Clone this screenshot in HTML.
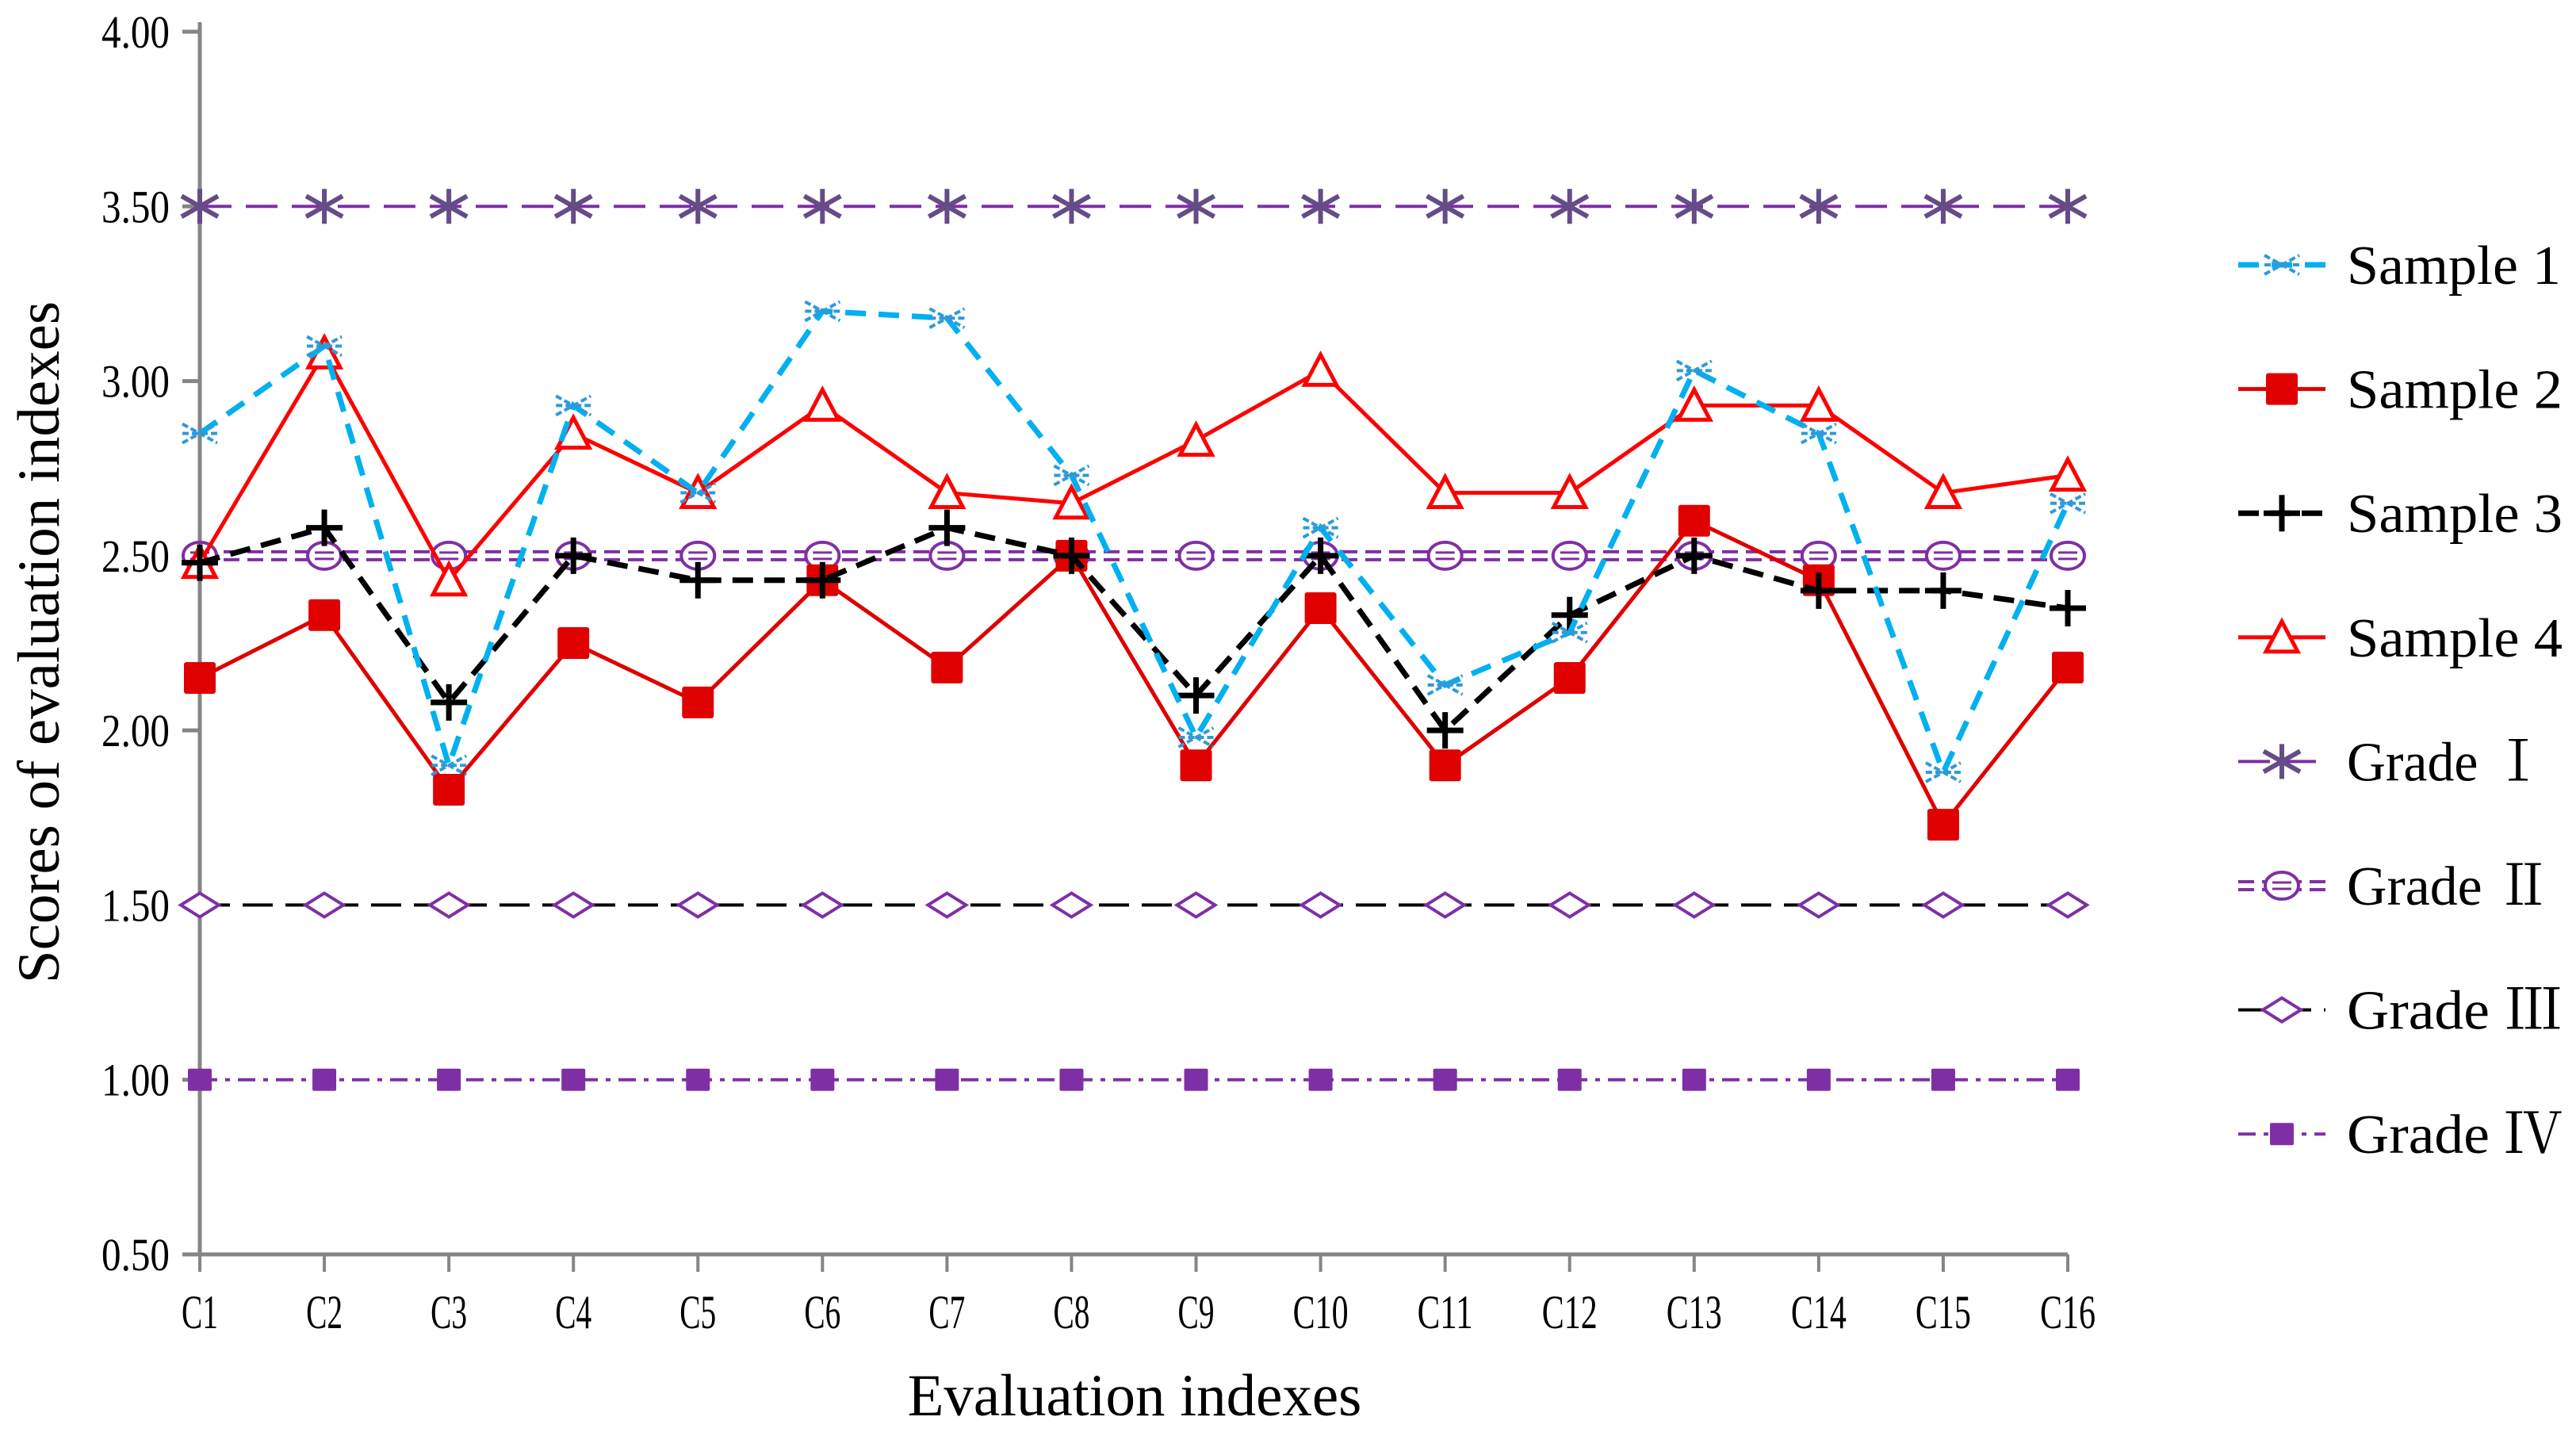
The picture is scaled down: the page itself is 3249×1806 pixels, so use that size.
<!DOCTYPE html>
<html><head><meta charset="utf-8"><style>
html,body{margin:0;padding:0;background:#fff;}
svg{display:block;font-family:"Liberation Serif","Noto Serif CJK SC",serif;}
</style></head><body>
<svg id="chart" width="3249" height="1806" viewBox="0 0 3249 1806" xmlns="http://www.w3.org/2000/svg">
<g id="axes"></g>
<g id="series"></g>
<g id="legend"></g>
<text x="0" y="0" transform="translate(74,810) rotate(-90)" text-anchor="middle" font-size="75">Scores of evaluation indexes</text>
<text x="1431" y="1785" text-anchor="middle" font-size="75">Evaluation indexes</text>
</svg>
<script>
const categories = ["C1","C2","C3","C4","C5","C6","C7","C8","C9","C10","C11","C12","C13","C14","C15","C16"];
const yTicks = ["0.50","1.00","1.50","2.00","2.50","3.00","3.50","4.00"];
const sample1 = [2.85,3.10,1.90,2.93,2.68,3.20,3.18,2.73,1.98,2.58,2.13,2.28,3.03,2.85,1.88,2.65];
const sample2 = [2.15,2.33,1.83,2.25,2.08,2.43,2.18,2.50,1.90,2.35,1.90,2.15,2.60,2.43,1.73,2.18];
const sample3 = [2.48,2.58,2.08,2.50,2.43,2.43,2.58,2.50,2.10,2.50,2.00,2.33,2.50,2.40,2.40,2.35];
const sample4 = [2.48,3.08,2.43,2.85,2.68,2.93,2.68,2.65,2.83,3.03,2.68,2.68,2.93,2.93,2.68,2.73];
const grade1 = [3.5,3.5,3.5,3.5,3.5,3.5,3.5,3.5,3.5,3.5,3.5,3.5,3.5,3.5,3.5,3.5];
const grade2 = [2.5,2.5,2.5,2.5,2.5,2.5,2.5,2.5,2.5,2.5,2.5,2.5,2.5,2.5,2.5,2.5];
const grade3 = [1.5,1.5,1.5,1.5,1.5,1.5,1.5,1.5,1.5,1.5,1.5,1.5,1.5,1.5,1.5,1.5];
const grade4 = [1.0,1.0,1.0,1.0,1.0,1.0,1.0,1.0,1.0,1.0,1.0,1.0,1.0,1.0,1.0,1.0];
const legendLabels = ["Sample 1","Sample 2","Sample 3","Sample 4","Grade  \u2160","Grade  \u2161","Grade \u2162","Grade \u2163"];

const NS="http://www.w3.org/2000/svg";
const X0=252, X1=2608, Y0=1582, Y1=40, VMIN=0.5, VMAX=4.0;
function xs(i){return X0+(X1-X0)*i/(categories.length-1);}
function ys(v){return Y0-(v-VMIN)/(VMAX-VMIN)*(Y0-Y1);}
function mk(tag,attrs,parent){const e=document.createElementNS(NS,tag);for(const k in attrs)e.setAttribute(k,attrs[k]);parent.appendChild(e);return e;}

const axes=document.getElementById('axes');
const GR="#858585";
let yl=mk('line',{x1:X0,y1:Y1-12,x2:X0,y2:Y0,stroke:GR,'stroke-width':5},axes);


let xl=mk('line',{x1:X0-22,y1:Y0,x2:X1,y2:Y0,stroke:GR,'stroke-width':5},axes);


yTicks.forEach(t=>{
  const y=ys(parseFloat(t));
  mk('line',{x1:X0-22,y1:y,x2:X0,y2:y,stroke:GR,'stroke-width':5},axes);
  const tx=mk('text',{x:X0-38-86,y:y+20,'font-size':58,textLength:86,lengthAdjust:'spacingAndGlyphs'},axes);
  tx.textContent=t;
  
  
});
categories.forEach((c,i)=>{
  const x=xs(i);
  mk('line',{x1:x,y1:Y0,x2:x,y2:Y0+22,stroke:GR,'stroke-width':4},axes);
  const w=c.length===2?46:70;
  const tx=mk('text',{x:x-w/2,y:1675,'font-size':60,textLength:w,lengthAdjust:'spacingAndGlyphs'},axes);
  tx.textContent=c;
  
  
});

function marker(type,x,y,g){
  if(type==='xstar'){
    mk('path',{d:`M${x-22},${y-12}L${x+22},${y+12}M${x-22},${y+12}L${x+22},${y-12}M${x-22},${y}H${x+22}`,stroke:'#2f9ad6','stroke-width':4,fill:'none','stroke-dasharray':'8 4'},g);
  }else if(type==='square'){
    mk('rect',{x:x-20,y:y-20,width:40,height:40,rx:3,fill:'#e00000'},g);
  }else if(type==='plus'){
    mk('path',{d:`M${x-23},${y}H${x+23}M${x},${y-23}V${y+23}`,stroke:'#000','stroke-width':7},g);
  }else if(type==='tri'){
    mk('path',{d:`M${x},${y-20}L${x+20},${y+18}L${x-20},${y+18}Z`,stroke:'#ff0000','stroke-width':5,fill:'#fff'},g);
  }else if(type==='asterisk'){
    mk('path',{d:`M${x-23},${y-13}L${x+23},${y+13}M${x-23},${y+13}L${x+23},${y-13}M${x},${y-22}V${y+22}`,stroke:'#654c87','stroke-width':6},g);
  }else if(type==='circle'){
    mk('ellipse',{cx:x,cy:y,rx:21,ry:17,stroke:'#7f2fa5','stroke-width':4,fill:'#fff'},g);
    mk('path',{d:`M${x-12},${y-4}H${x+12}M${x-12},${y+4}H${x+12}`,stroke:'#7f2fa5','stroke-width':3},g);
  }else if(type==='diamond'){
    mk('path',{d:`M${x-24},${y}L${x},${y-15}L${x+24},${y}L${x},${y+15}Z`,stroke:'#7f2fa5','stroke-width':4,fill:'#fff'},g);
  }else if(type==='sq4'){
    mk('rect',{x:x-15,y:y-14,width:30,height:28,rx:2,fill:'#7f2fa5'},g);
  }
}
function lineStyle(g,d,style){
  if(style.double){
    mk('path',{d:d,transform:'translate(0,-5)',stroke:style.color,'stroke-width':4,fill:'none','stroke-dasharray':style.dash},g);
    mk('path',{d:d,transform:'translate(0,5)',stroke:style.color,'stroke-width':4,fill:'none','stroke-dasharray':style.dash},g);
  }else{
    mk('path',{d:d,stroke:style.color,'stroke-width':style.w,fill:'none','stroke-dasharray':style.dash||'none'},g);
  }
}
const seriesDefs=[
 {name:'grade-4-line',data:grade4,color:'#7f2fa5',w:4,dash:'22 10 6 10',m:'sq4'},
 {name:'grade-3-line',data:grade3,color:'#000',w:4,dash:'38 16',m:'diamond'},
 {name:'grade-2-line',data:grade2,color:'#7f2fa5',w:4,dash:'20 10',double:true,m:'circle'},
 {name:'grade-1-line',data:grade1,color:'#7f2fa5',w:4,dash:'40 18',m:'asterisk'},
 {name:'sample-4-line',data:sample4,color:'#ff0000',w:5,m:'tri'},
 {name:'sample-2-line',data:sample2,color:'#e00000',w:5,m:'square'},
 {name:'sample-3-line',data:sample3,color:'#000',w:7,dash:'26 14',m:'plus'},
 {name:'sample-1-line',data:sample1,color:'#00b0f0',w:7,dash:'26 16',m:'xstar'}
];
const seriesG=document.getElementById('series');
seriesDefs.forEach(s=>{
  const g=mk('g',{},seriesG);
  
  
  const d=s.data.map((v,i)=>(i?'L':'M')+xs(i)+','+ys(v)).join('');
  lineStyle(g,d,s);
  s.data.forEach((v,i)=>marker(s.m,xs(i),ys(v),g));
});
const legendOrder=['sample-1-line','sample-2-line','sample-3-line','sample-4-line','grade-1-line','grade-2-line','grade-3-line','grade-4-line'];
const legendWidths=[270,272,272,272,250,258,272,272];
const legG=document.getElementById('legend');
legendLabels.forEach((lab,k)=>{
  const s=seriesDefs.find(d=>d.name===legendOrder[k]);
  const y=334+k*156.6;
  const g=mk('g',{},legG);
  
  
  lineStyle(g,`M2823,${y}H2933`,s);
  marker(s.m,2878,y,g);
  const t=mk('text',{x:2960,y:y+24,'font-size':70,textLength:legendWidths[k],lengthAdjust:'spacingAndGlyphs'},g);
  t.textContent=lab;
});
</script>
</body></html>
